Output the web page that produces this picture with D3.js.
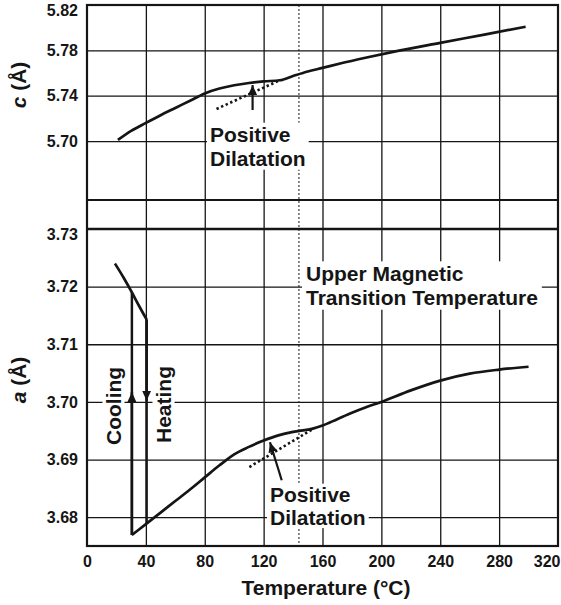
<!DOCTYPE html>
<html>
<head>
<meta charset="utf-8">
<script src="https://cdn.jsdelivr.net/npm/d3@7"></script>
<style>
  html, body { margin: 0; padding: 0; background: #fff; }
  svg { display: block; font-family: "Liberation Sans", Arial, Helvetica, sans-serif; font-weight: bold; }
</style>
</head>
<body>
<svg id="chart" width="561" height="605"></svg>
<script>
// ---- Temperature axis (°C) ----
const tempTicks = [0, 40, 80, 120, 160, 200, 240, 280, 320];
const gridTemps = [40, 80, 120, 160, 200, 240, 280];
const transitionTemp = 144;

// ---- c lattice parameter (Å) ----
const cTicks = [5.82, 5.78, 5.74, 5.70];
const cGrid = [5.78, 5.74, 5.70];
const cTemp = [21, 30, 40, 50, 60, 70, 80, 90, 100, 110, 120, 131, 140, 150, 160, 172, 190, 212, 240, 270, 298];
const cVal  = [5.7010, 5.7090, 5.7160, 5.7228, 5.7292, 5.7356, 5.7420, 5.7463, 5.7492, 5.7512, 5.7526,
               5.7536, 5.7574, 5.7614, 5.7645, 5.7684, 5.7737, 5.7797, 5.7866, 5.7939, 5.8008];
const cTangentTemp = [88, 131];
const cTangentVal  = [5.7283, 5.7536];
const cArrowTemp = [112.5, 112.5];
const cArrowVal  = [5.7274, 5.7494];

// ---- a lattice parameter (Å) ----
const aTicks = [3.73, 3.72, 3.71, 3.70, 3.69, 3.68];
const aGrid = [3.72, 3.71, 3.70, 3.69, 3.68];
// high-a branch below the transition
const aHighTemp = [19, 25, 30.5, 35.5, 40.5];
const aHighVal  = [3.7240, 3.7215, 3.7190, 3.7166, 3.7143];
// main branch
const aLowTemp = [30.5, 40, 50, 60, 70, 80, 90, 95, 100, 110, 120, 130, 140, 150, 154, 160, 170, 180, 190, 200, 220, 240, 260, 280, 300];
const aLowVal  = [3.6769, 3.6788, 3.6808, 3.6828, 3.6848, 3.6869, 3.6890, 3.6900, 3.6909, 3.6922, 3.6933,
                  3.6942, 3.6948, 3.6952, 3.6954, 3.6959, 3.6970, 3.6981, 3.6991, 3.7000, 3.7020, 3.7037,
                  3.7049, 3.7056, 3.7061];
// cooling / heating jumps
const coolingTemp = [30.5, 30.5];
const coolingVal  = [3.6769, 3.7190];
const coolingArrowTip = 3.7017;
const heatingTemp = [40.5, 40.5];
const heatingVal  = [3.7143, 3.6789];
const heatingArrowTip = 3.7002;
const aTangentTemp = [110.3, 153.5];
const aTangentVal  = [3.6887, 3.6953];
const aArrowTemp = [132.3, 124.3];
const aArrowVal  = [3.6864, 3.6930];

// ---- layout ----
const L = 87, R = 558;
const cTop = 5, cBottom = 200;
const aTop = 229, aBottom = 546;
const ink = "#151515";

const svg = d3.select("#chart");
svg.append("rect").attr("width", 561).attr("height", 605).attr("fill", "#fff");

const x  = d3.scaleLinear().domain([0, 320]).range([L, R]);
const yC = d3.scaleLinear().domain([5.648, 5.82]).range([cBottom, cTop]);
const yA = d3.scaleLinear().domain([3.675, 3.73]).range([aBottom, aTop]);

const defs = svg.append("defs");
defs.append("marker")
  .attr("id", "head").attr("viewBox", "0 -5 10 10")
  .attr("refX", 10).attr("refY", 0)
  .attr("markerWidth", 10).attr("markerHeight", 10)
  .attr("markerUnits", "userSpaceOnUse").attr("orient", "auto")
  .append("path").attr("d", "M0,-4.5L10,0L0,4.5Z").attr("fill", ink);

// ---- grid ----
const grid = svg.append("g");
grid.append("g").attr("transform", `translate(0,${aBottom})`)
  .call(d3.axisBottom(x).tickValues(gridTemps).tickSize(-(aBottom - cTop)).tickFormat(""))
  .call(g => g.select(".domain").remove());
grid.append("g").attr("transform", `translate(${L},0)`)
  .call(d3.axisLeft(yC).tickValues(cGrid).tickSize(-(R - L)).tickFormat(""))
  .call(g => g.select(".domain").remove());
grid.append("g").attr("transform", `translate(${L},0)`)
  .call(d3.axisLeft(yA).tickValues(aGrid).tickSize(-(R - L)).tickFormat(""))
  .call(g => g.select(".domain").remove());
grid.selectAll("line").attr("stroke", ink).attr("stroke-width", 1.3);

// upper magnetic transition marker
svg.append("line")
  .attr("x1", x(transitionTemp)).attr("x2", x(transitionTemp))
  .attr("y1", cTop).attr("y2", aBottom)
  .attr("stroke", ink).attr("stroke-width", 1).attr("stroke-dasharray", "2,2");

// ---- frame ----
svg.append("rect").attr("x", L).attr("y", cTop).attr("width", R - L).attr("height", aBottom - cTop)
  .attr("fill", "none").attr("stroke", ink).attr("stroke-width", 2.2);
svg.append("line").attr("x1", L).attr("x2", R).attr("y1", cBottom).attr("y2", cBottom)
  .attr("stroke", ink).attr("stroke-width", 2.2);
svg.append("line").attr("x1", L).attr("x2", R).attr("y1", yA(3.73)).attr("y2", yA(3.73))
  .attr("stroke", ink).attr("stroke-width", 2.6);

// ---- annotation text on white boxes ----
function boxedText(parent, lines, xPos, yFirst, lineGap, padX, padY) {
  const g = parent.append("g");
  const rect = g.append("rect").attr("fill", "#fff");
  const t = g.append("text").attr("font-size", 21).attr("fill", ink);
  lines.forEach((s, i) => t.append("tspan").attr("x", xPos).attr("y", yFirst + i * lineGap).text(s));
  const b = t.node().getBBox();
  rect.attr("x", b.x - padX).attr("y", b.y - padY)
      .attr("width", b.width + 2 * padX).attr("height", b.height + 2 * padY);
  return g;
}
boxedText(svg, ["Positive", "Dilatation"], 210, 141.7, 24, 3, 0);
boxedText(svg, ["Upper Magnetic", "Transition Temperature"], 306, 281.3, 23.4, 4, 1);
boxedText(svg, ["Positive", "Dilatation"], 270, 501.7, 23.4, 3, -1);

// rotated process labels
function rotatedBoxed(label, baseX, startY) {
  const g = svg.append("g").attr("transform", `translate(${baseX},${startY}) rotate(-90)`);
  const rect = g.append("rect").attr("fill", "#fff");
  const t = g.append("text").attr("font-size", 21).attr("fill", ink).attr("x", 0).attr("y", 0).text(label);
  const b = t.node().getBBox();
  rect.attr("x", b.x - 3).attr("y", b.y + 1).attr("width", b.width + 6).attr("height", b.height - 1);
}
rotatedBoxed("Cooling", 120.5, 445);
rotatedBoxed("Heating", 170.5, 443);

// ---- curves ----
const lineC = d3.line().x(d => x(d[0])).y(d => yC(d[1])).curve(d3.curveMonotoneX);
const lineA = d3.line().x(d => x(d[0])).y(d => yA(d[1])).curve(d3.curveMonotoneX);
const straightA = d3.line().x(d => x(d[0])).y(d => yA(d[1]));
const straightC = d3.line().x(d => x(d[0])).y(d => yC(d[1]));

const curves = svg.append("g").attr("fill", "none").attr("stroke", ink)
  .attr("stroke-width", 2.7).attr("stroke-linejoin", "round");

curves.append("path").attr("d", lineC(d3.zip(cTemp, cVal)));
curves.append("path").attr("d", lineA(d3.zip(aHighTemp, aHighVal)));
curves.append("path").attr("d", lineA(d3.zip(aLowTemp, aLowVal)));
curves.append("path").attr("d", straightA(d3.zip(coolingTemp, coolingVal))).attr("stroke-width", 2.5);
curves.append("path").attr("d", straightA(d3.zip(heatingTemp, heatingVal))).attr("stroke-width", 2.5);

// tangents extrapolated through the anomaly
curves.append("path").attr("d", straightC(d3.zip(cTangentTemp, cTangentVal)))
  .attr("stroke-dasharray", "2.4,2.6").attr("stroke-width", 2.6);
curves.append("path").attr("d", straightA(d3.zip(aTangentTemp, aTangentVal)))
  .attr("stroke-dasharray", "2.4,2.6").attr("stroke-width", 2.6);

// ---- arrows ----
const arrows = svg.append("g").attr("fill", "none").attr("stroke", ink).attr("stroke-width", 2.2);
arrows.append("path").attr("d", straightC(d3.zip(cArrowTemp, cArrowVal))).attr("marker-end", "url(#head)");
arrows.append("path").attr("d", straightA(d3.zip(aArrowTemp, aArrowVal))).attr("marker-end", "url(#head)");
arrows.append("path").attr("d", straightA([[coolingTemp[0], coolingVal[0]], [coolingTemp[0], coolingArrowTip]]))
  .attr("marker-end", "url(#head)").attr("stroke-width", 2.5);
arrows.append("path").attr("d", straightA([[heatingTemp[0], heatingVal[0]], [heatingTemp[0], heatingArrowTip]]))
  .attr("marker-end", "url(#head)").attr("stroke-width", 2.5);

// ---- axes ----
const fmt = d3.format(".2f");
function styleAxis(g) {
  g.select(".domain").remove();
  g.selectAll("text").attr("font-size", 16).attr("font-weight", "bold").attr("fill", ink)
    .attr("font-family", '"Liberation Sans", Arial, Helvetica, sans-serif');
}
svg.append("g").attr("transform", `translate(0,${aBottom})`)
  .call(d3.axisBottom(x).tickValues(tempTicks).tickSize(0).tickPadding(10).tickFormat(d3.format("d")))
  .call(styleAxis)
  // keep the last label inside the page edge
  .call(g => g.selectAll(".tick text").filter(d => d === 320).attr("text-anchor", "end").attr("x", 2));
svg.append("g").attr("transform", `translate(${L},0)`)
  .call(d3.axisLeft(yC).tickValues(cTicks).tickSize(0).tickPadding(9).tickFormat(fmt))
  .call(styleAxis)
  .call(g => g.selectAll(".tick text").filter(d => d === 5.82).attr("y", 5));
svg.append("g").attr("transform", `translate(${L},0)`)
  .call(d3.axisLeft(yA).tickValues(aTicks).tickSize(0).tickPadding(9).tickFormat(fmt))
  .call(styleAxis)
  .call(g => g.selectAll(".tick text").filter(d => d === 3.73).attr("y", 5));

// axis titles
svg.append("text").attr("x", 326).attr("y", 595).attr("text-anchor", "middle")
  .attr("font-size", 21).attr("fill", ink).text("Temperature (°C)");

function yTitle(letter, cy) {
  const t = svg.append("text").attr("transform", `translate(26,${cy}) rotate(-90)`)
    .attr("text-anchor", "middle").attr("font-size", 21).attr("fill", ink);
  t.append("tspan").attr("font-style", "italic").text(letter);
  t.append("tspan").text(" (Å)");
}
yTitle("c", 85);
yTitle("a", 380);
</script>
</body>
</html>
